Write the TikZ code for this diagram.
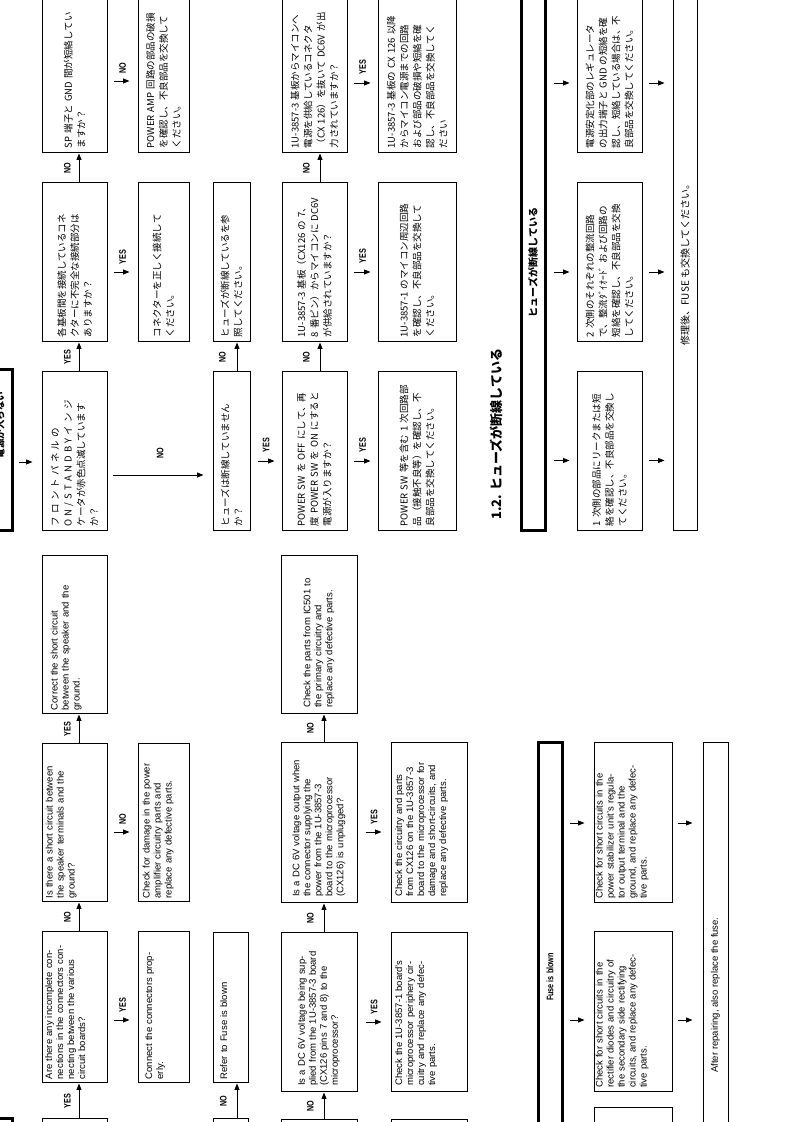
\documentclass[tikz,border=0pt]{standalone}
\usepackage{fontspec}
\setmainfont{Liberation Sans}
\newfontfamily\jpfont{Noto Sans CJK JP}
\newfontfamily\condfont{Liberation Sans}[FakeStretch=0.76]
\usetikzlibrary{arrows.meta,calc,positioning}
\newcommand{\jl}[1]{\makebox[\hsize][s]{#1}\\}
\newcommand{\ensize}{\fontsize{9.5}{11}\selectfont\parindent=0pt\relax}
\newcommand{\jaset}{\jpfont\XeTeXlinebreaklocale "ja"\XeTeXlinebreakskip=0pt plus 1pt\parindent=0pt\relax}

\begin{document}
\begin{tikzpicture}[x=1pt, y=1pt]
  \tikzset{
    box/.style={draw, line width=1pt, inner sep=0pt},
    head/.style={draw, line width=3pt, inner sep=0pt},
    etxt/.style={anchor=north west, align=left, inner xsep=4pt, inner ysep=4pt, font=\ensize},
    ctxt/.style={anchor=west, align=left, inner xsep=6.5pt, font=\ensize},
    jtxt/.style={anchor=west, align=left, inner xsep=5pt, text width=149pt, font=\jaset\fontsize{9.5}{13}\selectfont},
    arr/.style={-{Triangle[length=6.5pt,width=5pt]}, line width=0.8pt},
    darr/.style={arr, shorten <=6pt, shorten >=8pt},
    lbl/.style={font=\condfont\bfseries\fontsize{9.5}{10}\selectfont, inner sep=1pt}
  }
  \useasboundingbox (0,0) rectangle (793,1122);
  \clip (0,0) rectangle (793,1122);
  % the page is turned: u runs up the sheet, v runs to the left
  \begin{scope}[shift={(793,0)}, rotate=90, transform shape]

  % English: power does not turn on
  \node[head, minimum width=158pt, minimum height=24pt] (eh) at (-76,793) {};
  \node[box, minimum width=158pt, minimum height=65pt] (ec1) at (-76,718.5) {};
  \node[box, minimum width=151pt, minimum height=65pt] (e1) at (114.5,718.5) {};
  \node[box, minimum width=158pt, minimum height=65pt] (e2) at (299,718.5) {};
  \node[box, minimum width=158pt, minimum height=65pt] (e3) at (487,718.5) {};
  \node[box, minimum width=151pt, minimum height=51pt] (e4) at (114.5,629.5) {};
  \node[box, minimum width=158pt, minimum height=51pt] (e5) at (299,629.5) {};
  \node[box, minimum width=158pt, minimum height=35pt] (ec3) at (-76,562.5) {};
  \node[box, minimum width=150pt, minimum height=35pt] (e6) at (114,562.5) {};
  \node[box, minimum width=158pt, minimum height=76pt] (ec4) at (-77,474) {};
  \node[box, minimum width=159pt, minimum height=76pt] (e7) at (109.5,474) {};
  \node[box, minimum width=160pt, minimum height=76pt] (e8) at (299,474) {};
  \node[box, minimum width=158pt, minimum height=76pt] (e9) at (487,474) {};
  \node[box, minimum width=158pt, minimum height=76pt] (ec5) at (-77,364) {};
  \node[box, minimum width=159pt, minimum height=76pt] (e10) at (109.5,364) {};
  \node[box, minimum width=160pt, minimum height=76pt] (e11) at (299,364) {};

  \node[etxt, inner ysep=3.5pt, text width=143pt] (e1t) at (e1.north west) {\jl{Are there any incomplete con-}\jl{nections in the connectors con-}\jl{necting between the various}circuit boards?};
  \node[etxt, text width=150pt] (e2t) at (e2.north west) {\jl{Is there a short circuit between}\jl{the speaker terminals and the}ground?};
  \node[etxt, inner ysep=9pt, text width=150pt] (e3t) at (e3.north west) {\jl{Correct the short circuit}\jl{between the speaker and the}ground.};
  \node[etxt, inner ysep=7.5pt, text width=143pt] (e4t) at (e4.north west) {\jl{Connect the connectors prop-}erly.};
  \node[etxt, inner ysep=5pt, text width=150pt] (e5t) at (e5.north west) {\jl{Check for damage in the power}\jl{amplifier circuitry parts and}replace any defective parts.};
  \node[etxt, inner ysep=7.5pt, text width=142pt] (e6t) at (e6.north west) {Refer to Fuse is blown};
  \node[ctxt, text width=146pt] (e7t) at (e7.west) {\jl{Is a DC 6V voltage being sup-}\jl{plied from the 1U-3857-3 board}\jl{(CX126 pins 7 and 8) to the}microprocessor?};
  \node[ctxt, text width=147pt] (e8t) at (e8.west) {\jl{Is a DC 6V voltage output when}\jl{the connector supplying the}\jl{power from the 1U-3857-3}\jl{board to the microprocessor}(CX126) is unplugged?};
  \node[ctxt, text width=145pt] (e9t) at (e9.west) {\jl{Check the parts from IC501 to}\jl{the primary circuitry and}replace any defective parts.};
  \node[etxt, inner xsep=6.5pt, inner ysep=4.5pt, text width=146pt] (e10t) at (e10.north west) {\jl{Check the 1U-3857-1 board's}\jl{microprocessor periphery cir-}\jl{cuitry and replace any defec-}tive parts.};
  \node[etxt, inner xsep=6.5pt, inner ysep=4.5pt, text width=147pt] (e11t) at (e11.north west) {\jl{Check the circuitry and parts}\jl{from CX126 on the 1U-3857-3}\jl{board to the microprocessor for}\jl{damage and short-circuits, and}replace any defective parts.};

  \draw[arr] ($(ec1.east)+(0,-4.5)$) -- ($(e1.west)+(0,-4.5)$) node[lbl, midway, above=7pt] {YES};
  \draw[arr] ($(e1.east)+(0,-4.5)$) -- ($(e2.west)+(0,-4.5)$) node[lbl, midway, above=7pt] {NO};
  \draw[arr] ($(e2.east)+(0,-4.5)$) -- ($(e3.west)+(0,-4.5)$) node[lbl, midway, above=7pt] {YES};
  \draw[darr] ($(e1.south)+(-12.5,0)$) -- ($(e4.north)+(-12.5,0)$) node[lbl, midway, right=6pt] {YES};
  \draw[darr] ($(e2.south)+(-9,0)$) -- ($(e5.north)+(-9,0)$) node[lbl, midway, right=6pt] {NO};
  \draw[arr] ($(ec3.east)+(0,-6.5)$) -- ($(e6.west)+(0,-6.5)$) node[lbl, midway, above=9pt] {NO};
  \draw[arr] ($(ec4.east)+(0,-5)$) -- ($(e7.west)+(0,-5)$) node[lbl, midway, above=9pt] {NO};
  \draw[arr] ($(e7.east)+(0,-5)$) -- ($(e8.west)+(0,-5)$) node[lbl, midway, above=9pt] {NO};
  \draw[arr] ($(e8.east)+(0,-5)$) -- ($(e9.west)+(0,-5)$) node[lbl, midway, above=9pt] {NO};
  \draw[darr, shorten <=8pt, shorten >=9pt] ($(e7.south)+(-9.5,0)$) -- ($(e10.north)+(-9.5,0)$) node[lbl, midway, right=6pt] {YES};
  \draw[darr, shorten <=8pt, shorten >=9pt] ($(e8.south)+(-9,0)$) -- ($(e11.north)+(-9,0)$) node[lbl, midway, right=6pt] {YES};

  % English: fuse is blown
  \node[head, minimum width=468pt, minimum height=24pt, font=\condfont\bfseries\fontsize{9.5}{10}\selectfont] (efh) at (145,243) {Fuse is blown};
  \node[box, minimum width=160pt, minimum height=78pt] (fb1) at (299,160) {};
  \node[box, minimum width=160pt, minimum height=78pt] (fb2) at (110,160) {};
  \node[box, minimum width=160pt, minimum height=78pt] (fb3) at (-66,160) {};
  \node[box, minimum width=504pt, minimum height=25pt, font=\ensize] (eb) at (127,77.5) {After repairing, also replace the fuse.};
  \node[etxt, inner xsep=4.5pt, inner ysep=2pt, text width=151pt] (fb1t) at (fb1.north west) {\jl{Check for short circuits in the}\jl{power stabilizer unit's regula-}\jl{tor output terminal and the}\jl{ground, and replace any defec-}tive parts.};
  \node[etxt, inner xsep=4.5pt, inner ysep=2pt, text width=151pt] (fb2t) at (fb2.north west) {\jl{Check for short circuits in the}\jl{rectifier diodes and circuitry of}\jl{the secondary side rectifying}\jl{circuits, and replace any defec-}tive parts.};
  \coordinate (fx1) at (fb1.center);
  \coordinate (fx2) at ($(fb2.center)+(-8,0)$);
  \draw[darr, shorten >=9pt] (fx1 |- efh.south) -- (fx1 |- fb1.north);
  \draw[darr, shorten >=9pt] (fx2 |- efh.south) -- (fx2 |- fb2.north);
  \draw[darr, shorten <=5pt, shorten >=10pt] (fx1 |- fb1.south) -- (fx1 |- eb.north);
  \draw[darr, shorten <=5pt, shorten >=10pt] (fx2 |- fb2.south) -- (fx2 |- eb.north);

  % Japanese: power does not turn on
  \node[head, minimum width=161pt, minimum height=24pt] (jh) at (671.5,793) {};
  \node[font=\jpfont\bfseries\fontsize{9.5}{11}\selectfont, inner sep=0pt] (jht) at (697,793) {電源が入らない};
  \node[box, minimum width=159pt, minimum height=65pt] (j1) at (670.5,718.5) {};
  \node[box, minimum width=159pt, minimum height=65pt] (j2) at (859.5,718.5) {};
  \node[box, minimum width=159pt, minimum height=65pt] (j3) at (1048.5,718.5) {};
  \node[box, minimum width=159pt, minimum height=51pt] (j4) at (859.5,629.5) {};
  \node[box, minimum width=159pt, minimum height=51pt] (j5) at (1048.5,629.5) {};
  \node[box, minimum width=159pt, minimum height=37pt] (j6) at (670.5,561.5) {};
  \node[box, minimum width=159pt, minimum height=37pt] (j7) at (859.5,561.5) {};
  \node[box, minimum width=159pt, minimum height=65pt] (j8) at (670.5,478.5) {};
  \node[box, minimum width=159pt, minimum height=65pt] (j10) at (859.5,478.5) {};
  \node[box, minimum width=159pt, minimum height=65pt] (j12) at (1048.5,478.5) {};
  \node[box, minimum width=159pt, minimum height=78pt] (j9) at (670.5,376) {};
  \node[box, minimum width=159pt, minimum height=78pt] (j11) at (859.5,376) {};
  \node[box, minimum width=159pt, minimum height=78pt] (j13) at (1048.5,376) {};

  \node[jtxt] (j1t) at (j1.west) {\jl{フ ロ ン ト パ ネ ル の}\jl{O N / S T A N D B Y イ ン ジ}\jl{ケータが赤色点滅しています}か？};
  \node[jtxt] (j2t) at (j2.west) {\jl{各基板間を接続しているコネ}\jl{クターに不完全な接続部分は}ありますか？};
  \node[jtxt] (j3t) at (j3.west) {\jl{SP 端子と GND 間が短絡してい}ますか？};
  \node[jtxt] (j4t) at (j4.west) {\jl{コネクターを正しく接続して}ください。};
  \node[jtxt] (j5t) at (j5.west) {\jl{POWER AMP 回路の部品の破損}\jl{を確認し、不良部品を交換して}ください。};
  \node[jtxt] (j6t) at (j6.west) {\jl{ヒューズは断線していません}か？};
  \node[jtxt] (j7t) at (j7.west) {\jl{ヒューズが断線しているを参}照してください。};
  \node[jtxt] (j8t) at (j8.west) {\jl{POWER SW を OFF にして、再}\jl{度 POWER SW を ON にすると}電源が入りますか？};
  \node[jtxt] (j9t) at (j9.west) {\jl{POWER SW 等を含む 1 次回路部}\jl{品（接触不良等）を確認し、不}良部品を交換してください。};
  \node[jtxt] (j10t) at (j10.west) {\jl{1U-3857-3 基板（CX126 の 7、}\jl{8 番ピン）からマイコンに DC6V}が供給されていますか？};
  \node[jtxt] (j11t) at (j11.west) {\jl{1U-3857-1 のマイコン周辺回路}\jl{を確認し、不良部品を交換して}ください。};
  \node[jtxt] (j12t) at (j12.west) {\jl{1U-3857-3 基板からマイコンへ}\jl{電源を供給しているコネクタ}\jl{（CX 126）を抜いて DC6V が出}力されていますか？};
  \node[jtxt] (j13t) at (j13.west) {\jl{1U-3857-3 基板の CX 126 以降}\jl{からマイコン電源までの回路}\jl{および部品の破損や短絡を確}\jl{認し、不良部品を交換してく}ださい};

  \draw[darr, shorten <=5pt, shorten >=9pt] ($(jh.south)+(-11.5,0)$) -- ($(j1.north)+(-10.5,0)$);
  \draw[arr] ($(j1.east)+(0,-4.5)$) -- ($(j2.west)+(0,-4.5)$) node[lbl, midway, above=7pt] {YES};
  \draw[arr] ($(j2.east)+(0,-4.5)$) -- ($(j3.west)+(0,-4.5)$) node[lbl, midway, above=7pt] {NO};
  \draw[darr] ($(j2.south)+(-9.5,0)$) -- ($(j4.north)+(-9.5,0)$) node[lbl, midway, right=6pt] {YES};
  \draw[darr] ($(j3.south)+(-7.5,0)$) -- ($(j5.north)+(-7.5,0)$) node[lbl, midway, right=6pt] {NO};
  \draw[darr, shorten <=5pt, shorten >=9pt] ($(j1.south)+(-23.5,0)$) -- ($(j6.north)+(-23.5,0)$) node[lbl, midway, right=15pt] {NO};
  \draw[arr] ($(j6.east)+(0,-5.5)$) -- ($(j7.west)+(0,-5.5)$) node[lbl, midway, above=10pt] {NO};
  \draw[darr, shorten <=7pt, shorten >=7pt] ($(j6.south)+(-9.5,0)$) -- ($(j8.north)+(-9.5,0)$) node[lbl, midway, right=7pt] {YES};
  \draw[darr, shorten <=6pt, shorten >=7pt] ($(j8.south)+(-9.5,0)$) -- ($(j9.north)+(-9.5,0)$) node[lbl, midway, right=7pt] {YES};
  \draw[arr] ($(j8.east)+(0,-5.5)$) -- ($(j10.west)+(0,-5.5)$) node[lbl, midway, above=9pt] {NO};
  \draw[arr] ($(j10.east)+(0,-5.5)$) -- ($(j12.west)+(0,-5.5)$) node[lbl, midway, above=9pt] {NO};
  \draw[darr, shorten <=6pt, shorten >=7pt] ($(j10.south)+(-9.5,0)$) -- ($(j11.north)+(-9.5,0)$) node[lbl, midway, right=7pt] {YES};
  \draw[darr, shorten <=6pt, shorten >=7pt] ($(j12.south)+(-9.5,0)$) -- ($(j13.north)+(-9.5,0)$) node[lbl, midway, right=7pt] {YES};

  % Japanese: fuse is blown
  \node[anchor=west, inner sep=0pt, font=\jpfont\bfseries\fontsize{13}{15}\selectfont] (jtitle) at (602,296.5) {1.2. ヒューズが断線している};
  \node[head, minimum width=537pt, minimum height=24pt, font=\jpfont\bfseries\fontsize{10}{12}\selectfont] (jfh) at (859.5,260) {ヒューズが断線している};
  \node[box, minimum width=159pt, minimum height=65pt] (jf1) at (670.5,183.5) {};
  \node[box, minimum width=159pt, minimum height=65pt] (jf2) at (859.5,183.5) {};
  \node[box, minimum width=159pt, minimum height=65pt] (jf3) at (1048.5,183.5) {};
  \node[box, minimum width=537pt, minimum height=24pt, font=\jaset\fontsize{10}{12}\selectfont] (jb) at (859.5,108) {修理後、FUSE も交換してください。};
  \node[jtxt] (jf1t) at (jf1.west) {\jl{1 次側の部品にリークまたは短}\jl{絡を確認し、不良部品を交換し}てください。};
  \node[jtxt] (jf2t) at (jf2.west) {\jl{2 次側のそれぞれの整流回路}\jl{で、整流ﾀﾞｲｵｰﾄﾞ および回路の}\jl{短絡を確認し、不良部品を交換}してください。};
  \node[jtxt] (jf3t) at (jf3.west) {\jl{電源安定化部のレギュレータ}\jl{の出力端子と GND の短絡を確}\jl{認し、短絡している場合は、不}良部品を交換してください。};
  \coordinate (jx1) at ($(jf1.center)+(-9,0)$);
  \coordinate (jx2) at ($(jf2.center)+(-9.5,0)$);
  \coordinate (jx3) at ($(jf3.center)+(-9.5,0)$);
  \draw[darr, shorten <=7pt, shorten >=7pt] (jx1 |- jfh.south) -- (jx1 |- jf1.north);
  \draw[darr, shorten <=7pt, shorten >=7pt] (jx2 |- jfh.south) -- (jx2 |- jf2.north);
  \draw[darr, shorten <=7pt, shorten >=7pt] (jx3 |- jfh.south) -- (jx3 |- jf3.north);
  \draw[darr] (jx1 |- jf1.south) -- (jx1 |- jb.north);
  \draw[darr] (jx2 |- jf2.south) -- (jx2 |- jb.north);
  \draw[darr] (jx3 |- jf3.south) -- (jx3 |- jb.north);
  \end{scope}
\end{tikzpicture}
\end{document}
